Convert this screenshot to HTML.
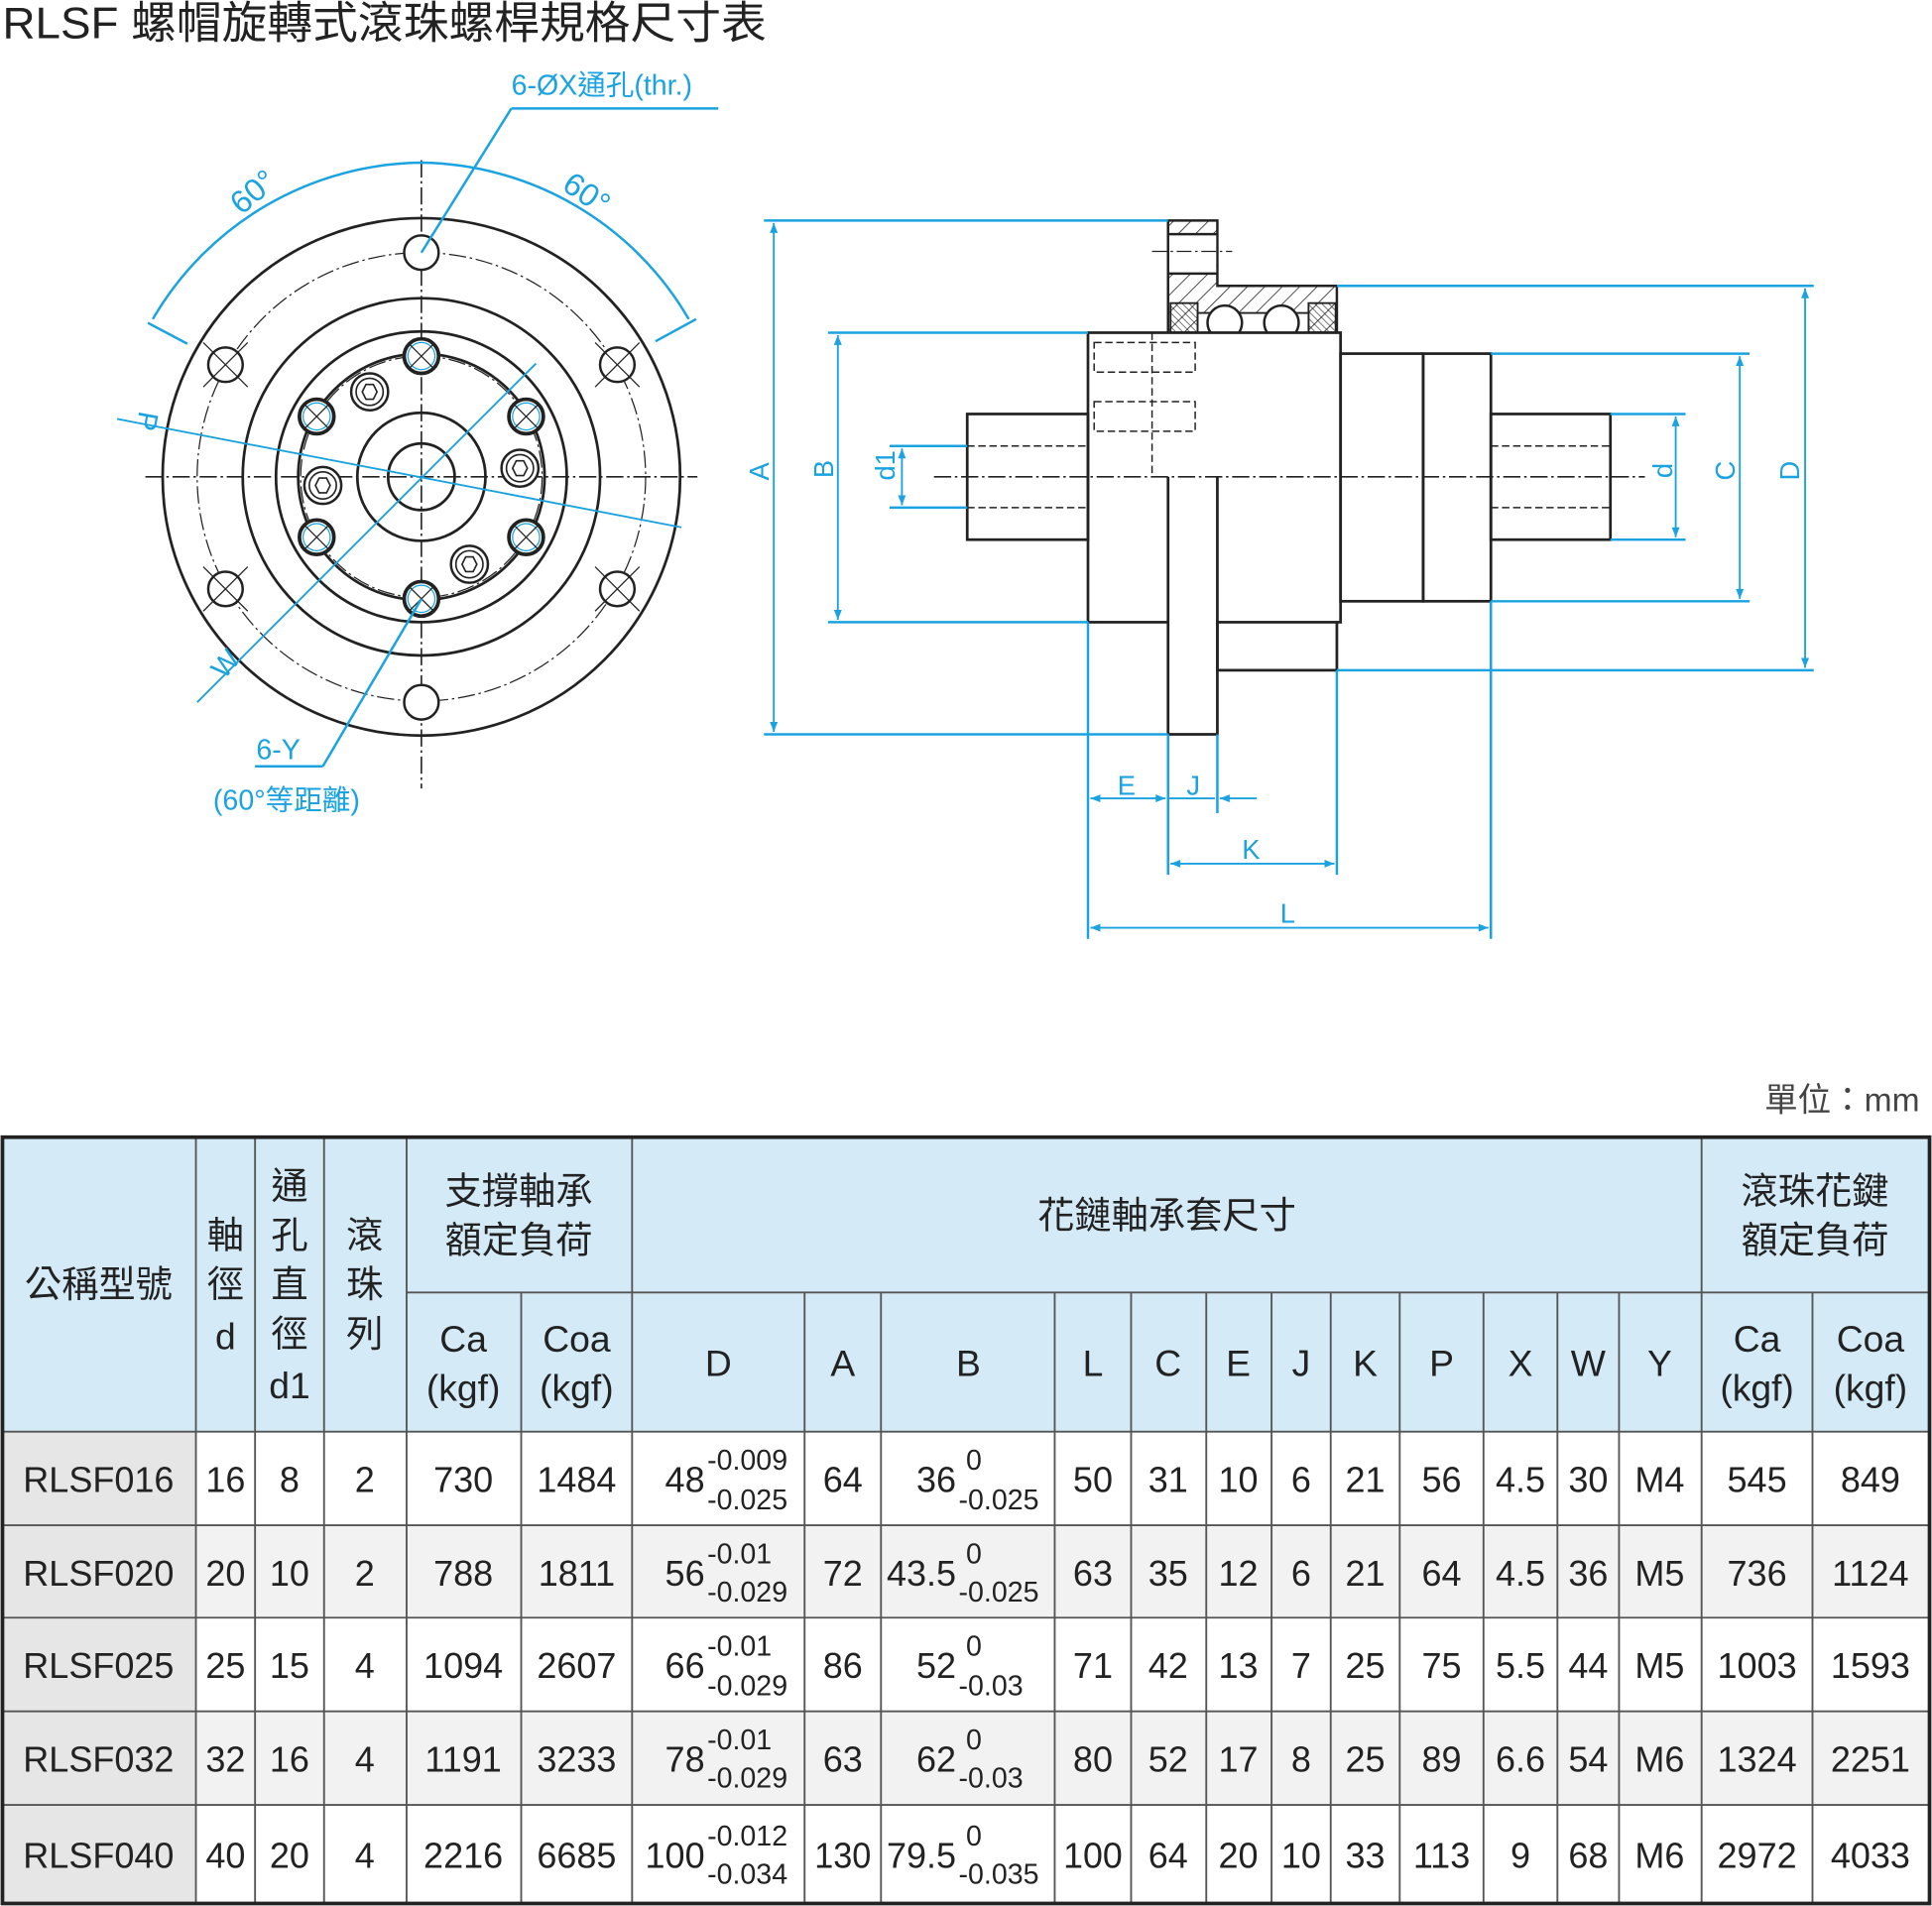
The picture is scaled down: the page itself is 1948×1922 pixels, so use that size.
<!DOCTYPE html>
<html><head><meta charset="utf-8"><style>
html,body{margin:0;padding:0;background:#fff;}
svg{display:block;}
text{font-family:"Liberation Sans","Noto Sans CJK TC",sans-serif;}
</style></head><body>
<svg width="1948" height="1922" viewBox="0 0 1568 1547" xmlns="http://www.w3.org/2000/svg">
<defs>
<pattern id="h1" width="10" height="10" patternUnits="userSpaceOnUse" patternTransform="rotate(45)"><line x1="0" y1="0" x2="0" y2="10" stroke="#222" stroke-width="1.3"/></pattern>
<pattern id="h2" width="4" height="4" patternUnits="userSpaceOnUse" patternTransform="rotate(-45)"><line x1="0" y1="0" x2="0" y2="4" stroke="#222" stroke-width="1"/></pattern>
<marker id="ar" viewBox="0 0 10 10" refX="10" refY="5" markerWidth="10" markerHeight="8" orient="auto-start-reverse" markerUnits="userSpaceOnUse"><path d="M0,1 L10,5 L0,9 z" fill="#1aa3e0"/></marker>
</defs>
<text x="2" y="31" font-size="36" fill="#222" textLength="620" lengthAdjust="spacingAndGlyphs">RLSF 螺帽旋轉式滾珠螺桿規格尺寸表</text>

<!-- FRONT VIEW -->
<g fill="none" stroke="#222" stroke-width="2.2">
<circle cx="342" cy="387" r="210"/>
<circle cx="342" cy="387" r="145"/>
<circle cx="342" cy="387" r="118"/>
<circle cx="342" cy="387" r="100"/>
<circle cx="342" cy="387" r="52"/>
<circle cx="342" cy="387" r="27"/>
</g>
<g fill="none" stroke="#222" stroke-width="1" stroke-dasharray="14,3,2,3">
<circle cx="342" cy="387" r="182"/>
<circle cx="342" cy="387" r="98"/>
<line x1="118" y1="387" x2="566" y2="387" stroke-width="1.3"/>
<line x1="342" y1="130" x2="342" y2="640" stroke-width="1.3"/>
</g>
<g fill="#fff" stroke="#222" stroke-width="2">
<circle cx="342" cy="205" r="14"/><circle cx="183" cy="296" r="14"/><circle cx="501" cy="296" r="14"/>
<circle cx="183" cy="478" r="14"/><circle cx="501" cy="478" r="14"/><circle cx="342" cy="570" r="14"/>
</g>
<g stroke="#222" stroke-width="1">
<line x1="165" y1="278" x2="201" y2="314"/><line x1="165" y1="314" x2="201" y2="278"/>
<line x1="483" y1="278" x2="519" y2="314"/><line x1="483" y1="314" x2="519" y2="278"/>
<line x1="165" y1="460" x2="201" y2="496"/><line x1="165" y1="496" x2="201" y2="460"/>
<line x1="483" y1="460" x2="519" y2="496"/><line x1="483" y1="496" x2="519" y2="460"/>
</g>
<g fill="#fff" stroke="#222" stroke-width="2">
<circle cx="300" cy="318" r="15"/><circle cx="262" cy="394" r="15"/><circle cx="381" cy="458" r="15"/><circle cx="422" cy="380" r="15"/>
</g>
<g fill="none" stroke="#222" stroke-width="1.3">
<circle cx="300" cy="318" r="11"/><circle cx="262" cy="394" r="11"/><circle cx="381" cy="458" r="11"/><circle cx="422" cy="380" r="11"/>
<path d="M294,318 l3,-6 h6 l3,6 l-3,6 h-6z"/><path d="M256,394 l3,-6 h6 l3,6 l-3,6 h-6z"/><path d="M375,458 l3,-6 h6 l3,6 l-3,6 h-6z"/><path d="M416,380 l3,-6 h6 l3,6 l-3,6 h-6z"/>
</g>
<g fill="#fff" stroke="#222" stroke-width="3">
<circle cx="342" cy="289" r="14"/><circle cx="257" cy="338" r="14"/><circle cx="427" cy="338" r="14"/>
<circle cx="257" cy="436" r="14"/><circle cx="427" cy="436" r="14"/><circle cx="342" cy="486" r="14"/>
</g>
<g fill="none" stroke="#1aa3e0" stroke-width="1">
<circle cx="342" cy="289" r="11"/><circle cx="257" cy="338" r="11"/><circle cx="427" cy="338" r="11"/>
<circle cx="257" cy="436" r="11"/><circle cx="427" cy="436" r="11"/><circle cx="342" cy="486" r="11"/>
</g>
<g stroke="#222" stroke-width="1">
<line x1="332" y1="279" x2="352" y2="299"/><line x1="332" y1="299" x2="352" y2="279"/>
<line x1="247" y1="328" x2="267" y2="348"/><line x1="247" y1="348" x2="267" y2="328"/>
<line x1="417" y1="328" x2="437" y2="348"/><line x1="417" y1="348" x2="437" y2="328"/>
<line x1="247" y1="426" x2="267" y2="446"/><line x1="247" y1="446" x2="267" y2="426"/>
<line x1="417" y1="426" x2="437" y2="446"/><line x1="417" y1="446" x2="437" y2="426"/>
<line x1="332" y1="476" x2="352" y2="496"/><line x1="332" y1="496" x2="352" y2="476"/>
</g>
<g fill="none" stroke="#1aa3e0" stroke-width="2">
<path d="M124,259 A255,255 0 0 1 342,132 A255,255 0 0 1 559,259"/>
<line x1="120" y1="262" x2="152" y2="279"/><line x1="565" y1="259" x2="532" y2="277"/>
<line x1="415" y1="88" x2="583" y2="88"/><line x1="415" y1="88" x2="342" y2="205"/>
<line x1="95" y1="340" x2="553" y2="428" stroke-width="1.5"/>
<line x1="160" y1="570" x2="435" y2="295" stroke-width="1.5"/>
<line x1="342" y1="486" x2="262" y2="622"/><line x1="207" y1="622" x2="262" y2="622"/>
</g>
<g fill="#1aa3e0" font-size="23">
<text x="415" y="77">6-ØX通孔(thr.)</text>
<text transform="translate(196,175) rotate(-40)" font-size="26">60°</text>
<text transform="translate(455,153) rotate(35)" font-size="26">60°</text>
<text transform="translate(113,333) rotate(100)">P</text>
<text transform="translate(182,552) rotate(-50)">W</text>
<text x="208" y="616">6-Y</text>
<text x="173" y="657">(60°等距離)</text>
</g>

<!-- SIDE VIEW -->
<g fill="url(#h1)" stroke="#222" stroke-width="2">
<path d="M948,232 V179 H988 V232 H1085 V270 H948 Z" />
</g>
<rect x="949" y="190" width="38" height="32" fill="#fff"/>
<line x1="948" y1="190" x2="988" y2="190" stroke="#222" stroke-width="2"/>
<line x1="948" y1="222" x2="988" y2="222" stroke="#222" stroke-width="2"/>
<line x1="935" y1="204" x2="1000" y2="204" stroke="#222" stroke-width="1" stroke-dasharray="12,3,2,3"/>
<rect x="950" y="246" width="22" height="24" fill="url(#h2)" stroke="#222" stroke-width="1.5"/>
<rect x="1062" y="246" width="22" height="24" fill="url(#h2)" stroke="#222" stroke-width="1.5"/>
<rect x="972" y="254" width="90" height="16" fill="#fff" stroke="#222" stroke-width="1.5"/>
<circle cx="994" cy="262" r="14" fill="#fff" stroke="#222" stroke-width="2"/>
<circle cx="1040" cy="262" r="14" fill="#fff" stroke="#222" stroke-width="2"/>
<g fill="none" stroke="#222" stroke-width="2.2">
<rect x="883" y="270" width="205" height="235" fill="#fff"/>
<rect x="1088" y="287" width="67" height="201"/>
<rect x="1155" y="287" width="55" height="201"/>
<rect x="785" y="336" width="98" height="102"/>
<rect x="1210" y="336" width="97" height="102"/>
</g>
<g fill="none" stroke="#222" stroke-width="1.2" stroke-dasharray="6,3">
<line x1="785" y1="362" x2="883" y2="362"/><line x1="785" y1="412" x2="883" y2="412"/>
<line x1="1210" y1="362" x2="1307" y2="362"/><line x1="1210" y1="412" x2="1307" y2="412"/>
<rect x="888" y="278" width="82" height="24"/><rect x="888" y="326" width="82" height="24"/>
<line x1="935" y1="270" x2="935" y2="387"/>
</g>
<line x1="758" y1="387" x2="1335" y2="387" stroke="#222" stroke-width="1.3" stroke-dasharray="14,3,2,3"/>
<rect x="949" y="388" width="38" height="207" fill="#fff"/>
<path d="M948,387 V596 H988 V387" fill="none" stroke="#222" stroke-width="2.2"/>
<path d="M988,505 V544 H1085 V505" fill="none" stroke="#222" stroke-width="2.2"/>
<g stroke="#1aa3e0" stroke-width="2" fill="none">
<line x1="620" y1="179" x2="948" y2="179"/><line x1="620" y1="596" x2="948" y2="596"/>
<line x1="672" y1="270" x2="883" y2="270"/><line x1="672" y1="505" x2="883" y2="505"/>
<line x1="722" y1="362" x2="785" y2="362"/><line x1="722" y1="412" x2="785" y2="412"/>
<line x1="1085" y1="232" x2="1472" y2="232"/><line x1="1085" y1="544" x2="1472" y2="544"/>
<line x1="1210" y1="287" x2="1420" y2="287"/><line x1="1210" y1="488" x2="1420" y2="488"/>
<line x1="1307" y1="336" x2="1368" y2="336"/><line x1="1307" y1="438" x2="1368" y2="438"/>
<line x1="883" y1="505" x2="883" y2="762"/><line x1="948" y1="596" x2="948" y2="710"/>
<line x1="988" y1="596" x2="988" y2="660"/><line x1="1085" y1="544" x2="1085" y2="710"/>
<line x1="1210" y1="488" x2="1210" y2="762"/>
</g>
<g stroke="#1aa3e0" stroke-width="1.5" fill="none" marker-start="url(#ar)" marker-end="url(#ar)">
<line x1="628" y1="181" x2="628" y2="594"/>
<line x1="680" y1="272" x2="680" y2="503"/>
<line x1="1412" y1="289" x2="1412" y2="486"/>
<line x1="1465" y1="234" x2="1465" y2="542"/>
<line x1="1360" y1="338" x2="1360" y2="436"/>
<line x1="885" y1="648" x2="946" y2="648"/>
<line x1="950" y1="701" x2="1083" y2="701"/>
<line x1="885" y1="753" x2="1208" y2="753"/>
</g>
<g stroke="#1aa3e0" stroke-width="1.5" fill="none">
<line x1="732" y1="364" x2="732" y2="410" marker-start="url(#ar)" marker-end="url(#ar)"/>
<line x1="948" y1="648" x2="986" y2="648"/>
<line x1="1020" y1="648" x2="990" y2="648" marker-end="url(#ar)"/>
</g>
<g fill="#1aa3e0" font-size="22">
<text transform="translate(624,390) rotate(-90)">A</text>
<text transform="translate(676,388) rotate(-90)">B</text>
<text transform="translate(726,390) rotate(-90)">d1</text>
<text transform="translate(1357,388) rotate(-90)">d</text>
<text transform="translate(1408,390) rotate(-90)">C</text>
<text transform="translate(1460,390) rotate(-90)">D</text>
<text x="907" y="645">E</text><text x="963" y="645">J</text>
<text x="1008" y="697">K</text><text x="1039" y="749">L</text>
</g>

<!-- TABLE -->
<text x="1558" y="902" font-size="27" fill="#444" text-anchor="end">單位：mm</text>
<rect x="2" y="923" width="1564" height="239" fill="#d4ebf7"/>
<rect x="2" y="1238" width="1564" height="75" fill="#f2f2f2"/>
<rect x="2" y="1389" width="1564" height="76" fill="#f2f2f2"/>
<rect x="2" y="1162" width="157" height="383" fill="#e6e6e6"/>
<g stroke="#555" stroke-width="1.5" fill="none">
<line x1="330" y1="1049" x2="1566" y2="1049"/>
<line x1="2" y1="1162" x2="1566" y2="1162"/><line x1="2" y1="1238" x2="1566" y2="1238"/><line x1="2" y1="1313" x2="1566" y2="1313"/><line x1="2" y1="1389" x2="1566" y2="1389"/><line x1="2" y1="1465" x2="1566" y2="1465"/>
<path d="M159,923V1545M207,923V1545M263,923V1545M330,923V1545M513,923V1545M1381,923V1545"/>
<path d="M423,1049V1545M653,1049V1545M715,1049V1545M856,1049V1545M918,1049V1545M979,1049V1545M1032,1049V1545M1080,1049V1545M1136,1049V1545M1204,1049V1545M1264,1049V1545M1314,1049V1545M1471,1049V1545"/>
</g>
<rect x="2" y="923" width="1564" height="622" fill="none" stroke="#222" stroke-width="3"/>
<g font-size="30" fill="#222" text-anchor="middle">
<text x="80" y="1053">公稱型號</text>
<text x="183" y="1013">軸</text><text x="183" y="1053">徑</text><text x="183" y="1095">d</text>
<text x="235" y="973">通</text><text x="235" y="1013">孔</text><text x="235" y="1053">直</text><text x="235" y="1093">徑</text><text x="235" y="1135">d1</text>
<text x="296" y="1013">滾</text><text x="296" y="1053">珠</text><text x="296" y="1093">列</text>
<text x="421" y="977">支撐軸承</text><text x="421" y="1017">額定負荷</text>
<text x="947" y="997">花鏈軸承套尺寸</text>
<text x="1473" y="977">滾珠花鍵</text><text x="1473" y="1017">額定負荷</text>
<text x="376" y="1097">Ca</text><text x="376" y="1137">(kgf)</text>
<text x="468" y="1097">Coa</text><text x="468" y="1137">(kgf)</text>
<text x="1426" y="1097">Ca</text><text x="1426" y="1137">(kgf)</text>
<text x="1518" y="1097">Coa</text><text x="1518" y="1137">(kgf)</text>
<text x="583" y="1117">D</text><text x="684" y="1117">A</text><text x="786" y="1117">B</text><text x="887" y="1117">L</text><text x="948" y="1117">C</text><text x="1005" y="1117">E</text><text x="1056" y="1117">J</text><text x="1108" y="1117">K</text><text x="1170" y="1117">P</text><text x="1234" y="1117">X</text><text x="1289" y="1117">W</text><text x="1347" y="1117">Y</text>
</g>
<g font-size="29" fill="#222" text-anchor="middle">
<g transform="translate(0,1211)">
<text x="80">RLSF016</text><text x="183">16</text><text x="235">8</text><text x="296">2</text><text x="376">730</text><text x="468">1484</text><text x="684">64</text><text x="887">50</text><text x="948">31</text><text x="1005">10</text><text x="1056">6</text><text x="1108">21</text><text x="1170">56</text><text x="1234">4.5</text><text x="1289">30</text><text x="1347">M4</text><text x="1426">545</text><text x="1518">849</text>
</g>
<g transform="translate(0,1287)">
<text x="80">RLSF020</text><text x="183">20</text><text x="235">10</text><text x="296">2</text><text x="376">788</text><text x="468">1811</text><text x="684">72</text><text x="887">63</text><text x="948">35</text><text x="1005">12</text><text x="1056">6</text><text x="1108">21</text><text x="1170">64</text><text x="1234">4.5</text><text x="1289">36</text><text x="1347">M5</text><text x="1426">736</text><text x="1518">1124</text>
</g>
<g transform="translate(0,1362)">
<text x="80">RLSF025</text><text x="183">25</text><text x="235">15</text><text x="296">4</text><text x="376">1094</text><text x="468">2607</text><text x="684">86</text><text x="887">71</text><text x="948">42</text><text x="1005">13</text><text x="1056">7</text><text x="1108">25</text><text x="1170">75</text><text x="1234">5.5</text><text x="1289">44</text><text x="1347">M5</text><text x="1426">1003</text><text x="1518">1593</text>
</g>
<g transform="translate(0,1438)">
<text x="80">RLSF032</text><text x="183">32</text><text x="235">16</text><text x="296">4</text><text x="376">1191</text><text x="468">3233</text><text x="684">63</text><text x="887">80</text><text x="948">52</text><text x="1005">17</text><text x="1056">8</text><text x="1108">25</text><text x="1170">89</text><text x="1234">6.6</text><text x="1289">54</text><text x="1347">M6</text><text x="1426">1324</text><text x="1518">2251</text>
</g>
<g transform="translate(0,1516)">
<text x="80">RLSF040</text><text x="183">40</text><text x="235">20</text><text x="296">4</text><text x="376">2216</text><text x="468">6685</text><text x="684" textLength="46" lengthAdjust="spacingAndGlyphs">130</text><text x="887" textLength="48" lengthAdjust="spacingAndGlyphs">100</text><text x="948">64</text><text x="1005">20</text><text x="1056">10</text><text x="1108">33</text><text x="1170">113</text><text x="1234">9</text><text x="1289">68</text><text x="1347">M6</text><text x="1426">2972</text><text x="1518">4033</text>
</g>
</g>
<g fill="#222">
<g font-size="29" text-anchor="end">
<text x="572" y="1211">48</text><text x="572" y="1287">56</text><text x="572" y="1362">66</text><text x="572" y="1438">78</text><text x="572" y="1516">100</text>
<text x="776" y="1211">36</text><text x="776" y="1287">43.5</text><text x="776" y="1362">52</text><text x="776" y="1438">62</text><text x="776" y="1516">79.5</text>
</g>
<g font-size="23" text-anchor="start">
<text x="574" y="1193">-0.009</text><text x="574" y="1225">-0.025</text>
<text x="574" y="1269">-0.01</text><text x="574" y="1300">-0.029</text>
<text x="574" y="1344">-0.01</text><text x="574" y="1376">-0.029</text>
<text x="574" y="1420">-0.01</text><text x="574" y="1451">-0.029</text>
<text x="574" y="1498">-0.012</text><text x="574" y="1529">-0.034</text>
<text x="784" y="1193">0</text><text x="778" y="1225">-0.025</text>
<text x="784" y="1269">0</text><text x="778" y="1300">-0.025</text>
<text x="784" y="1344">0</text><text x="778" y="1376">-0.03</text>
<text x="784" y="1420">0</text><text x="778" y="1451">-0.03</text>
<text x="784" y="1498">0</text><text x="778" y="1529">-0.035</text>
</g>
</g>
</svg>
</body></html>
